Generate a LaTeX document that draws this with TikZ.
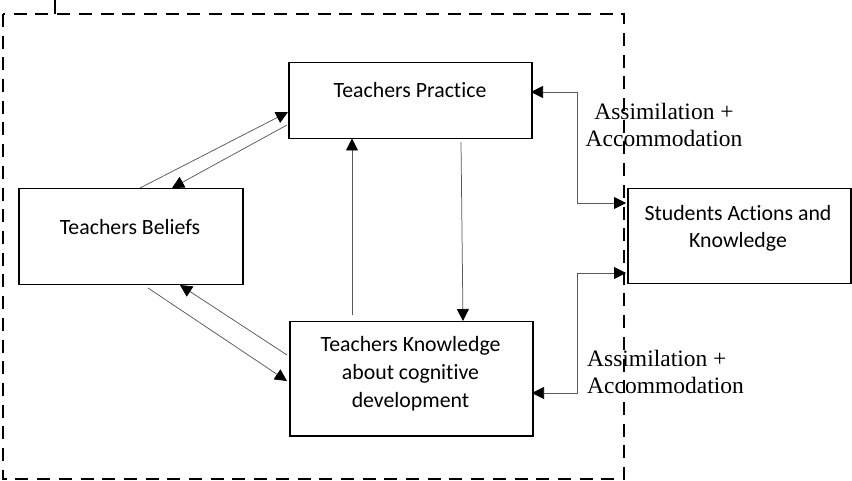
\documentclass[tikz,border=0pt]{standalone}
\usepackage{fontspec}
\setmainfont{Carlito}[Ligatures=NoCommon]
\newfontfamily\timesf{Liberation Serif}
\usetikzlibrary{arrows.meta}
\begin{document}
\begin{tikzpicture}[x=1pt,y=-1pt,
  box/.style={draw=black,line width=1.5pt,fill=white,inner sep=0pt,anchor=north west},
  boxtext/.style={font=\fontsize{21.8}{28}\selectfont,align=center,inner sep=0pt,anchor=base},
  conn/.style={draw=black!65,line width=0.75pt,-{Triangle[length=12pt,width=12pt,color=black]}},
  conn2/.style={draw=black!65,line width=0.75pt,{Triangle[length=12pt,width=12pt,color=black]}-{Triangle[length=12pt,width=12pt,color=black]}},
  lab/.style={font=\timesf\fontsize{23.5}{27}\selectfont,inner sep=0pt,anchor=base}]
\useasboundingbox (0,0) rectangle (852,481);
% dashed frame
\draw[line width=1.3pt,dash pattern=on 13pt off 8.7pt] (3,14) rectangle (624,479);
\coordinate (tick0) at (55,0);
\coordinate (tick1) at (55,14);
\draw[line width=1.3pt] (tick0) -- (tick1);
% boxes
\node[box,minimum width=243pt,minimum height=76pt] (prac) at (288,62) {};
\node[box,minimum width=224pt,minimum height=96pt] (bel) at (18,188) {};
\node[box,minimum width=243pt,minimum height=114pt] (know) at (289,321) {};
\node[box,minimum width=223pt,minimum height=95pt] (stud) at (627,188) {};
% texts
\node[boxtext] (pt) at (410,98) {Teachers Practice};
\node[boxtext] (bt) at (130,235) {Teachers Beliefs};
\node[boxtext] (kt) at (410.5,407) {Teachers Knowledge\\about cognitive\\development};
\node[boxtext] (st) at (738,248) {Students Actions and\\Knowledge};
% labels
\node[lab,align=center] (l1) at (664,147) {Assimilation +\\Accommodation};
\node[lab,align=left,anchor=base west] (l2) at (587,393) {Assimilation +\\Accommodation};
% diagonal connectors
\coordinate (b1) at (140,188);
\coordinate (p1) at (288,112);
\coordinate (p2) at (287,125);
\coordinate (b2) at (172,188);
\coordinate (b3) at (148,288);
\coordinate (k3) at (287,381);
\coordinate (k4) at (287,355);
\coordinate (b4) at (180,285);
\draw[conn] (b1) -- (p1);
\draw[conn] (p2) -- (b2);
\draw[conn] (b3) -- (k3);
\draw[conn] (k4) -- (b4);
% vertical connectors
\coordinate (k5) at (352,315);
\coordinate (p5) at (352,138.5);
\coordinate (p6) at (461,142);
\coordinate (k6) at (463,321);
\draw[conn] (k5) -- (p5);
\draw[conn] (p6) -- (k6);
% right connectors
\coordinate (pr) at (531,92);
\coordinate (sr1) at (626,203);
\coordinate (sr2) at (626,273);
\coordinate (kr) at (532,393);
\coordinate (e1) at (577,203);
\coordinate (e2) at (577,393);
\draw[conn2] (pr) -| (e1) -- (sr1);
\draw[conn2] (sr2) -| (e2) -- (kr);
\end{tikzpicture}
\end{document}
